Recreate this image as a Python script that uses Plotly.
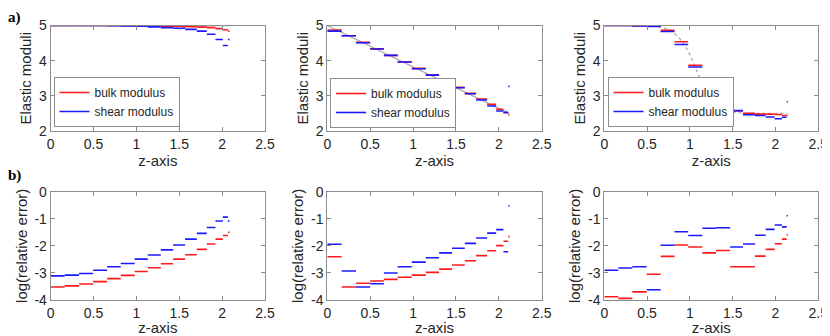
import plotly.graph_objects as go
from plotly.subplots import make_subplots

# layer edges along z for each of the three models
z_edges_1 = [0, 0.163, 0.331, 0.494, 0.658, 0.817, 0.98, 1.132, 1.284, 1.428,
             1.568, 1.704, 1.821, 1.922, 2.008, 2.067, 2.086]
z_edges_2 = [0, 0.167, 0.335, 0.50, 0.66, 0.82, 0.985, 1.148, 1.304, 1.455,
             1.603, 1.735, 1.864, 1.969, 2.054, 2.109, 2.125]
z_edges_3 = [0, 0.164, 0.327, 0.495, 0.658, 0.82, 0.98, 1.145, 1.305, 1.47,
             1.62, 1.76, 1.885, 1.99, 2.075, 2.13, 2.145]

# a) recovered elastic moduli
bulk_1 = [5.0, 5.0, 5.0, 5.0, 5.0, 4.995, 4.99, 4.985, 4.98, 4.975, 4.965, 4.955, 4.94, 4.91, 4.88, 4.84]
shear_1 = [5.0, 5.0, 5.0, 5.0, 4.995, 4.99, 4.98, 4.96, 4.94, 4.92, 4.89, 4.84, 4.75, 4.60, 4.43, 4.60]
bulk_2 = [4.87, 4.71, 4.52, 4.34, 4.15, 3.96, 3.78, 3.60, 3.42, 3.24, 3.07, 2.91, 2.76, 2.62, 2.52, 2.46]
shear_2 = [4.84, 4.71, 4.51, 4.33, 4.15, 3.96, 3.77, 3.59, 3.41, 3.23, 3.06, 2.88, 2.71, 2.57, 2.53, 3.27]
bulk_3 = [5.0, 5.0, 4.99, 4.98, 4.86, 4.54, 3.87, 3.14, 2.70, 2.57, 2.50, 2.48, 2.48, 2.47, 2.44, 2.44]
shear_3 = [5.0, 5.0, 4.99, 4.97, 4.83, 4.46, 3.82, 3.24, 2.81, 2.58, 2.46, 2.44, 2.40, 2.35, 2.39, 2.83]

# true models
model_z_1 = [0, 2.086]
model_1 = [5.0, 5.0]
model_z_2 = [0, 2.12]
model_2 = [5.0, 2.5]
model_z_3 = [0, 0.5, 0.6, 0.7, 0.8, 0.88, 0.95, 1.0, 1.05, 1.1, 1.15, 1.2, 1.28, 1.36, 1.45, 1.55, 1.7, 2.14]
model_3 = [5.0, 5.0, 4.98, 4.93, 4.82, 4.63, 4.40, 4.17, 3.90, 3.60, 3.30, 3.02, 2.77, 2.63, 2.55, 2.52, 2.50, 2.50]

# b) log(relative error)
err_bulk_1 = [-3.52, -3.48, -3.41, -3.32, -3.21, -3.09, -2.95, -2.81, -2.66, -2.49, -2.33, -2.13, -1.93, -1.75, -1.62, -1.50]
err_shear_1 = [-3.11, -3.08, -3.02, -2.90, -2.77, -2.65, -2.49, -2.34, -2.15, -1.97, -1.75, -1.54, -1.32, -1.08, -0.94, -1.08]
err_bulk_2 = [-2.40, -3.52, -3.38, -3.30, -3.24, -3.16, -3.08, -2.98, -2.86, -2.71, -2.55, -2.36, -2.18, -1.99, -1.83, -1.66]
err_shear_2 = [-1.94, -2.93, -3.52, -3.40, -3.00, -2.77, -2.60, -2.44, -2.26, -2.09, -1.91, -1.71, -1.53, -1.40, -2.22, -0.52]
err_bulk_3 = [-3.88, -3.94, -3.70, -3.05, -2.39, -1.97, -2.04, -2.26, -2.17, -2.77, -2.77, -2.38, -2.13, -1.92, -1.75, -1.59]
err_shear_3 = [-2.90, -2.82, -2.77, -3.62, -1.98, -1.48, -1.62, -1.35, -1.33, -2.04, -1.93, -1.61, -1.39, -1.23, -1.30, -0.89]

x_ticks = [0, 0.5, 1, 1.5, 2, 2.5]
x_ticktext = ["0", "0.5", "1", "1.5", "2", "2.5"]
top_ticks = [2, 3, 4, 5]
bottom_ticks = [-4, -3, -2, -1, 0]
bottom_ticktext = ["-4", "-3", "-2", "-1", "0"]

RED = "#ff1a1a"
BLUE = "#1a1aff"
GREY = "#ababab"
FONT = "Liberation Sans"


def steps(edges, vals):
    """Piecewise-constant layer values as separate horizontal segments."""
    xs, ys = [], []
    for a, b, v in zip(edges[:-1], edges[1:], vals):
        xs += [a, b, None]
        ys += [v, v, None]
    return xs, ys


fig = make_subplots(rows=2, cols=3)

top = [
    (z_edges_1, bulk_1, shear_1, model_z_1, model_1, "solid", "legend"),
    (z_edges_2, bulk_2, shear_2, model_z_2, model_2, "solid", "legend2"),
    (z_edges_3, bulk_3, shear_3, model_z_3, model_3, "dot", "legend3"),
]
for col, (edges, bulk, shear, mz, mv, dash, leg) in enumerate(top, start=1):
    fig.add_trace(go.Scatter(x=mz, y=mv, mode="lines", showlegend=False,
                             line=dict(color=GREY, width=1.3, dash=dash)), row=1, col=col)
    bx, by = steps(edges, bulk)
    sx, sy = steps(edges, shear)
    fig.add_trace(go.Scatter(x=bx, y=by, mode="lines", name="bulk modulus", legend=leg,
                             line=dict(color=RED, width=1.6)), row=1, col=col)
    fig.add_trace(go.Scatter(x=sx, y=sy, mode="lines", name="shear modulus", legend=leg,
                             line=dict(color=BLUE, width=1.6)), row=1, col=col)

bottom = [
    (z_edges_1, err_bulk_1, err_shear_1),
    (z_edges_2, err_bulk_2, err_shear_2),
    (z_edges_3, err_bulk_3, err_shear_3),
]
for col, (edges, bulk, shear) in enumerate(bottom, start=1):
    bx, by = steps(edges, bulk)
    sx, sy = steps(edges, shear)
    fig.add_trace(go.Scatter(x=bx, y=by, mode="lines", showlegend=False,
                             line=dict(color=RED, width=1.6)), row=2, col=col)
    fig.add_trace(go.Scatter(x=sx, y=sy, mode="lines", showlegend=False,
                             line=dict(color=BLUE, width=1.6)), row=2, col=col)

# the page body adds an 8px margin, so lay the figure out 8px smaller and shifted
OFF = 8
W, H = 830 - OFF, 336 - OFF
col_px = [(50.7, 265.0), (327.3, 541.7), (604.3, 818.3)]
row_px = [(25.5, 131.0), (191.7, 300.0)]


def px_x(v):
    return (v - OFF) / W


def px_y(v):
    return 1 - (v - OFF) / H


axis_style = dict(
    showline=True, linecolor="#8c8c8c", linewidth=1, mirror="ticks",
    ticks="inside", ticklen=4, tickcolor="#8c8c8c",
    tickfont=dict(size=14, color="#262626", family=FONT),
    showgrid=False, zeroline=False, automargin=False,
)

for r in range(2):
    for c in range(3):
        idx = r * 3 + c + 1
        sfx = "" if idx == 1 else str(idx)
        x0, x1 = col_px[c]
        y0, y1 = row_px[r]
        fig.layout["xaxis" + sfx].update(
            domain=[px_x(x0), px_x(x1)], range=[0, 2.5],
            tickvals=x_ticks, ticktext=x_ticktext,
            title=dict(text="z-axis", font=dict(size=15, color="#262626", family=FONT),
                       standoff=0 if r == 0 else 2),
            **axis_style,
        )
        if r == 0:
            yextra = dict(range=[2, 5], tickvals=top_ticks,
                          title_text="Elastic moduli")
        else:
            yextra = dict(range=[-4, 0], tickvals=bottom_ticks, ticktext=bottom_ticktext,
                          title_text="log(relative error)")
        fig.layout["yaxis" + sfx].update(
            domain=[px_y(y1), px_y(y0)],
            title_font=dict(size=15, color="#262626", family=FONT),
            title_standoff=3,
            **yextra, **axis_style,
        )

legend_style = dict(
    xanchor="left", yanchor="bottom", bgcolor="white",
    bordercolor="#8c8c8c", borderwidth=1, itemwidth=30, tracegroupgap=0,
    font=dict(size=12, color="#262626", family=FONT),
)
fig.update_layout(
    width=W, height=H,
    margin=dict(l=0, r=0, t=0, b=0, autoexpand=False),
    paper_bgcolor="white", plot_bgcolor="white",
    font=dict(family=FONT),
    legend=dict(x=px_x(53.5), y=px_y(127), **legend_style),
    legend2=dict(x=px_x(330), y=px_y(128), **legend_style),
    legend3=dict(x=px_x(607.5), y=px_y(127), **legend_style),
    annotations=[
        dict(text="<b>a)</b>", x=px_x(6), y=px_y(17), xref="paper", yref="paper",
             xanchor="left", yanchor="middle", showarrow=False,
             font=dict(size=15, family="Liberation Serif", color="black")),
        dict(text="<b>b)</b>", x=px_x(6), y=px_y(175), xref="paper", yref="paper",
             xanchor="left", yanchor="middle", showarrow=False,
             font=dict(size=15, family="Liberation Serif", color="black")),
    ],
)

fig.write_html("out.html")
